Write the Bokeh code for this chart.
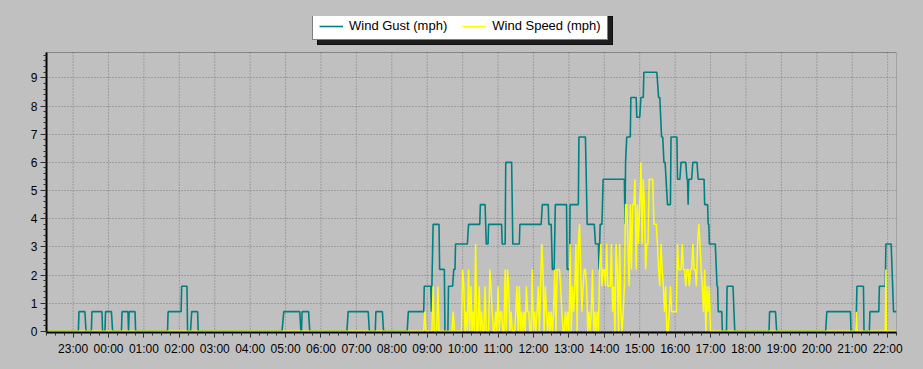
import numpy as np
from bokeh.plotting import figure
from bokeh.models import FixedTicker, Legend, LegendItem, Range1d, BoxAnnotation
from bokeh.embed import file_html
from bokeh.resources import INLINE

FONT = "Liberation Sans"

# ---------------- data ----------------
x_start = "22:15"
x_end = "22:15"
tick_labels = ["23:00", "00:00", "01:00", "02:00", "03:00", "04:00", "05:00", "06:00",
               "07:00", "08:00", "09:00", "10:00", "11:00", "12:00", "13:00", "14:00",
               "15:00", "16:00", "17:00", "18:00", "19:00", "20:00", "21:00", "22:00"]
y_ticks = [0, 1, 2, 3, 4, 5, 6, 7, 8, 9]
y_low, y_high = -0.04, 9.9

gust_times = [
    "22:15",
    "23:09", "23:10", "23:20", "23:22",
    "23:31", "23:32", "23:49", "23:50",
    "23:54", "23:55", "00:05", "00:07",
    "00:22", "00:23", "00:33", "00:34", "00:35", "00:45", "00:46",
    "01:40", "01:41", "02:03", "02:04", "02:13", "02:14",
    "02:19", "02:21", "02:31", "02:32",
    "04:54", "04:57", "05:24", "05:26",
    "05:27", "05:28", "05:39", "05:41",
    "06:44", "06:46", "07:20", "07:22",
    "07:32", "07:33", "07:44", "07:46",
    "08:26", "08:28", "08:54", "08:55", "09:06", "09:07", "09:10",
    "09:20", "09:21", "09:29", "09:30", "09:35", "09:36", "09:43", "09:45", "09:47", "09:48",
    "10:08", "10:10", "10:29", "10:30", "10:38", "10:40", "10:43", "10:44",
    "11:06", "11:07", "11:12", "11:13", "11:23", "11:25", "11:36", "11:37",
    "12:13", "12:15", "12:25", "12:26", "12:30", "12:32", "12:35", "12:37", "12:56", "12:57",
    "13:01", "13:02", "13:16", "13:17", "13:28", "13:31", "13:43", "13:45", "13:50", "13:51",
    "13:53", "13:56", "13:58",
    "14:34", "14:35", "14:36", "14:38", "14:44", "14:45", "14:54", "14:55",
    "15:00", "15:02", "15:06", "15:07", "15:29", "15:32", "15:34", "15:37", "15:39", "15:41",
    "15:43", "15:47", "15:52", "15:53",
    "16:03", "16:04", "16:08", "16:10", "16:18", "16:20", "16:21", "16:22", "16:23", "16:28",
    "16:30", "16:37", "16:39", "16:49", "16:50", "16:55", "16:56", "16:57", "16:58",
    "17:08", "17:11", "17:12", "17:13", "17:19", "17:20", "17:27", "17:28", "17:38", "17:41",
    "18:39", "18:40", "18:50", "18:52",
    "20:15", "20:17", "20:57", "20:58",
    "21:06", "21:07", "21:08", "21:19", "21:20", "21:29", "21:30", "21:45", "21:46", "21:56",
    "21:57", "22:06", "22:10", "22:15",
]
gust_vals = [
    0,
    0, 0.7, 0.7, 0,
    0, 0.7, 0.7, 0,
    0, 0.7, 0.7, 0,
    0, 0.7, 0.7, 0, 0.7, 0.7, 0,
    0, 0.7, 0.7, 1.6, 1.6, 0,
    0, 0.7, 0.7, 0,
    0, 0.7, 0.7, 0,
    0, 0.7, 0.7, 0,
    0, 0.7, 0.7, 0,
    0, 0.7, 0.7, 0,
    0, 0.7, 0.7, 1.6, 1.6, 0.7, 3.8,
    3.8, 2.2, 2.2, 0, 0, 1.6, 1.6, 2.2, 2.2, 3.1,
    3.1, 3.8, 3.8, 4.5, 4.5, 3.1, 3.1, 3.8,
    3.8, 3.1, 3.1, 6.0, 6.0, 3.1, 3.1, 3.8,
    3.8, 4.5, 4.5, 3.8, 3.8, 2.2, 2.2, 4.5, 4.5, 2.2,
    2.2, 4.5, 4.5, 6.9, 6.9, 3.8, 3.8, 3.1, 3.1, 2.2,
    3.8, 3.8, 5.4,
    5.4, 3.8, 6.0, 6.9, 6.9, 8.3, 8.3, 7.6,
    7.6, 8.3, 8.3, 9.2, 9.2, 8.3, 8.3, 6.9, 6.9, 6.0,
    6.0, 4.5, 4.5, 6.9,
    6.9, 5.4, 5.4, 6.0, 6.0, 5.4, 5.4, 4.5, 5.4, 5.4,
    6.0, 6.0, 5.4, 5.4, 4.5, 4.5, 3.8, 3.8, 3.1,
    3.1, 1.6, 1.6, 0.7, 0.7, 0, 0, 1.6, 1.6, 0,
    0, 0.7, 0.7, 0,
    0, 0.7, 0.7, 0,
    0, 0.7, 1.6, 1.6, 0, 0, 0.7, 0.7, 1.6, 1.6,
    3.1, 3.1, 0.7, 0.7,
]

# wind speed: quiet before and after, 2-minute readings through the active hours
speed_early_times = ["22:15", "08:48"]
speed_early_vals = [0, 0]
speed_dense_start = "08:50"
speed_dense_step_min = 2
speed_dense = [
    0, 0, 0, 0.7, 0, 0, 0, 0, 0, 0,
    1.6, 0, 0, 0, 1.6, 0, 0, 0, 0, 0,
    0, 0, 0, 0, 0, 0, 0, 0.7, 0, 0,
    0, 0, 0, 0, 0, 2.2, 1.6, 0, 0.7, 0,
    2.2, 0, 1.6, 0, 0.7, 0, 3.1, 0, 0, 1.6,
    0, 0.7, 0, 0, 1.6, 0, 0, 0, 2.2, 1.6,
    0.7, 0, 0, 0.7, 0, 1.6, 0, 0.7, 0.7, 0,
    0, 2.2, 0, 2.2, 1.6, 0, 0.7, 0, 0, 0,
    0.7, 1.6, 0, 1.6, 0, 0.7, 0, 0.7, 0, 1.6,
    0.7, 0.7, 0, 0, 2.2, 0, 0.7, 0, 0.7, 1.6,
    0, 1.6, 3.1, 2.2, 0, 1.6, 0.7, 0, 0.7, 0,
    0.7, 0, 0.7, 2.2, 0, 2.2, 2.2, 2.2, 1.6, 0.7,
    0, 0, 0.7, 0, 0.7, 0, 3.1, 0, 1.6, 0.7,
    1.6, 3.1, 0, 3.1, 3.8, 2.2, 0.7, 1.6, 2.2, 2.2,
    1.6, 0, 0.7, 0, 0.7, 2.2, 0, 0.7, 0, 0.7,
    0, 2.2, 3.1, 1.6, 2.2, 2.2, 1.6, 3.1, 1.6, 1.6,
    1.6, 3.1, 0.7, 1.6, 0, 3.1, 2.2, 0, 3.1, 0.7,
    0, 0.7, 1.6, 4.5, 4.5, 3.1, 1.6, 4.5, 2.2, 4.5,
    4.5, 5.4, 2.2, 4.5, 3.1, 4.5, 6.0, 3.1, 5.4, 4.5,
    2.2, 3.1, 3.1, 5.4, 5.4, 5.4, 5.4, 3.8, 3.8, 3.8,
    3.1, 2.2, 1.6, 3.1, 2.2, 1.6, 0.7, 1.6, 0, 0,
    0.7, 1.6, 0.7, 0.7, 0.7, 0.7, 0.7, 3.1, 2.2, 2.2,
    2.2, 3.1, 2.2, 2.2, 1.6, 2.2, 2.2, 1.6, 2.2, 2.2,
    3.1, 2.2, 2.2, 1.6, 3.1, 3.8, 3.1, 2.2, 1.6, 0.7,
    2.2, 0, 1.6, 0.7, 1.6, 0,
]
speed_late_times = ["17:02", "21:06", "21:07", "21:08", "21:56", "21:57", "21:58", "22:15"]
speed_late_vals = [0, 0, 0.7, 0, 0, 2.2, 0, 0]


# ---------------- helpers ----------------
def unwrap(times):
    """HH:MM strings (chronological, crossing midnight) -> hours since day-1 midnight."""
    out, off, prev = [], 0.0, None
    for s in times:
        hh, mm = s.split(":")
        h = int(hh) + int(mm) / 60.0 + off
        if prev is not None and h < prev - 1e-9:
            off += 24.0
            h += 24.0
        out.append(h)
        prev = h
    return out


def hm_add(s, minutes):
    hh, mm = map(int, s.split(":"))
    t = (hh * 60 + mm + minutes) % 1440
    return f"{t // 60:02d}:{t % 60:02d}"


gust_x = unwrap(gust_times)
speed_times = (speed_early_times
               + [hm_add(speed_dense_start, k * speed_dense_step_min) for k in range(len(speed_dense))]
               + speed_late_times)
speed_x = unwrap(speed_times)
speed_y = speed_early_vals + speed_dense + speed_late_vals

_rng = unwrap([x_start, "12:00", x_end])
x0, x1 = _rng[0], _rng[2]
tick_pos = [int(round(t)) for t in unwrap(["22:30"] + tick_labels)[1:]]
minor_x = list(np.arange(x0, x1 + 1e-6, 0.25))
minor_y = list(np.arange(0, 9.85, 0.2))

# ---------------- layout constants (pixels) ----------------
W, H = 923, 369
LEFT, RIGHT_PAD, TOP_PLOT, BOTTOM_PAD = 46, 27, 52, 37
TOP_FRAME = 16                     # frame extends up to hold the legend
plot_px = H - BOTTOM_PAD - TOP_PLOT  # 280 px for y_low..y_high
frame_px = H - BOTTOM_PAD - TOP_FRAME
y_top = y_low + (y_high - y_low) * frame_px / plot_px

# ---------------- figure ----------------
BG = "#C0C0C0"
GRID = "#7a7a7a"
p = figure(width=W, height=H, output_backend="svg", toolbar_location=None,
           x_range=Range1d(x0, x1), y_range=Range1d(y_low, y_top),
           min_border_left=LEFT, min_border_right=RIGHT_PAD,
           min_border_top=TOP_FRAME, min_border_bottom=BOTTOM_PAD)
p.background_fill_color = BG
p.border_fill_color = BG
p.outline_line_color = None
p.styles = {"background-color": BG}

# vertical grid lines limited to the plot area (the frame also holds the legend strip)
p.xgrid.visible = False
p.segment(x0=tick_pos, y0=[y_low] * len(tick_pos), x1=tick_pos, y1=[y_high] * len(tick_pos),
          line_color=GRID, line_dash="1 2", line_width=1, level="underlay")
p.ygrid[0].grid_line_color = GRID
p.ygrid[0].grid_line_dash = "1 2"
p.ygrid[0].grid_line_width = 1

r_gust = p.line(gust_x, gust_vals, line_color="#008080", line_width=1.6)
r_speed = p.line(speed_x, speed_y, line_color="#FFFF00", line_width=1.5)

p.xaxis.ticker = FixedTicker(ticks=tick_pos, minor_ticks=minor_x)
p.xaxis.major_label_overrides = {t: lab for t, lab in zip(tick_pos, tick_labels)}
p.yaxis.ticker = FixedTicker(ticks=y_ticks, minor_ticks=minor_y)
p.yaxis.bounds = (y_low, y_high)

for ax in (p.xaxis[0], p.yaxis[0]):
    ax.axis_line_color = "black"
    ax.axis_line_width = 2
    ax.major_tick_line_color = "#303030"
    ax.minor_tick_line_color = "#303030"
    ax.major_tick_in = 0
    ax.minor_tick_in = 0
    ax.major_label_text_font = FONT
    ax.major_label_text_font_size = "12px"
    ax.major_label_text_color = "black"

p.xaxis.major_tick_out = 5
p.xaxis.minor_tick_out = 3
p.xaxis.major_label_standoff = 4
p.yaxis.major_tick_out = 6
p.yaxis.minor_tick_out = 3
p.yaxis.major_label_standoff = 3

# plot-area border
p.add_layout(BoxAnnotation(left=x0, right=x1, bottom=y_low, top=y_high,
                           fill_color=None, fill_alpha=0, line_color="black",
                           line_width=1, editable=False))


def make_legend(loc, shadow=False):
    return Legend(items=[LegendItem(label="Wind Gust (mph)", renderers=[r_gust]),
                         LegendItem(label="Wind Speed (mph)", renderers=[r_speed])],
                  orientation="horizontal", location=loc, margin=0,
                  padding=6, spacing=15, glyph_width=24, glyph_height=12,
                  label_height=12, label_standoff=6,
                  label_text_font=FONT, label_text_font_size="13px",
                  label_text_color="black",
                  background_fill_color="black" if shadow else "white",
                  background_fill_alpha=0.85 if shadow else 1.0,
                  border_line_color="black", border_line_width=1)


# legend bottom-left at canvas (312, 40) -> offsets from the frame's bottom-left
lg_x = 312 - LEFT
lg_y = (H - BOTTOM_PAD) - 40
p.add_layout(make_legend((lg_x + 5, lg_y - 5), shadow=True))
p.add_layout(make_legend((lg_x, lg_y)))

open("out.html", "w").write(file_html(p, INLINE))
